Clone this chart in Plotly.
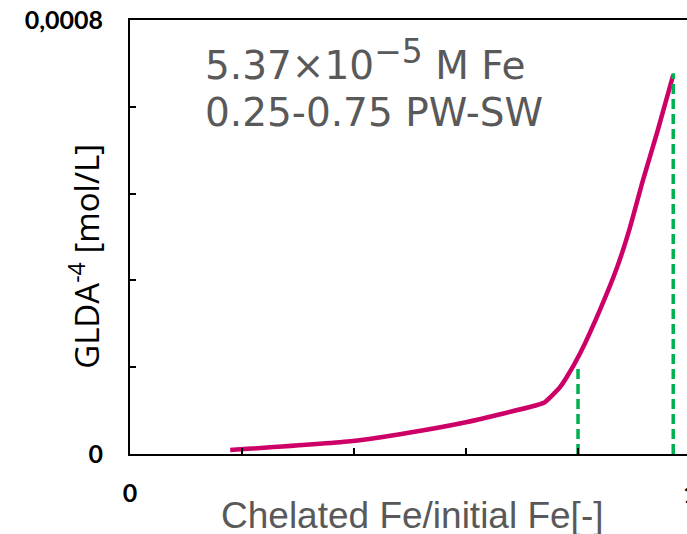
import plotly.graph_objects as go

# Data
ratio = [0.179, 0.398, 0.495, 0.602, 0.727, 0.741, 0.768, 0.780, 0.804, 0.839, 0.870, 0.893, 0.916, 0.941, 0.970]
gl_da = [7.4e-6, 2.40e-5, 3.87e-5, 5.90e-5, 9.03e-5, 9.58e-5, 1.235e-4, 1.419e-4, 1.862e-4, 2.654e-4,
         3.447e-4, 4.184e-4, 5.05e-4, 5.917e-4, 6.986e-4]
marker_x = [0.80, 0.97]
marker_top = [1.64e-4, 7.02e-4]

x_tickvals = [0, 0.2, 0.4, 0.6, 0.8, 1.0]
x_ticktext = ["0", "", "", "", "", ""]
y_tickvals = [0, 0.00016, 0.00032, 0.00048, 0.00064, 0.0008]
y_ticktext = ["0", "", "", "", "", "0,0008"]

tick_font = dict(family="Lato", size=25, color="black", weight="bold")

fig = go.Figure()
fig.add_trace(go.Scatter(x=ratio, y=gl_da, mode="lines",
                         line=dict(color="#cc0066", width=4.5, shape="spline", smoothing=0.6),
                         showlegend=False))
for mx, mt in zip(marker_x, marker_top):
    fig.add_trace(go.Scatter(x=[mx, mx], y=[0, mt], mode="lines",
                             line=dict(color="#00b050", width=3.5, dash="10px,5px"),
                             showlegend=False))

fig.update_layout(
    width=687, height=534,
    margin=dict(l=130, r=0, t=20, b=80),
    paper_bgcolor="white", plot_bgcolor="white",
    xaxis=dict(range=[0, 0.9946], tickvals=x_tickvals, ticktext=x_ticktext,
               ticks="inside", ticklen=6, tickwidth=1.5, tickcolor="black",
               showline=True, linecolor="black", linewidth=2, mirror=True,
               showgrid=False, zeroline=False, automargin=False,
               tickfont=tick_font, ticklabelstandoff=16),
    yaxis=dict(range=[0, 0.0008], tickvals=y_tickvals, ticktext=y_ticktext,
               ticks="inside", ticklen=6, tickwidth=1.5, tickcolor="black",
               showline=True, linecolor="black", linewidth=2,
               showgrid=False, zeroline=False, automargin=False,
               tickfont=tick_font, ticklabelstandoff=20),
)

# axis titles
fig.add_annotation(xref="paper", yref="paper", x=0.508, y=-0.1406,
                   text="Chelated Fe/initial Fe[-]", showarrow=False,
                   font=dict(family="Liberation Sans", size=37, color="#595959"),
                   xanchor="center", yanchor="middle")
fig.add_annotation(xref="paper", yref="paper", x=-0.082, y=0.455,
                   text="GLDA<sup>-4</sup> [mol/L]", showarrow=False, textangle=-90,
                   font=dict(family="Open Sans", size=33, color="black"),
                   xanchor="center", yanchor="middle")
# clipped "1" tick label at the right edge
fig.add_annotation(xref="paper", yref="paper", x=1.0054, y=-0.0899, text="1",
                   showarrow=False, font=tick_font,
                   xanchor="center", yanchor="middle")
# in-plot labels
fig.add_annotation(xref="paper", yref="paper", x=0.422, y=0.908,
                   text="5.37×10<sup><span style='font-size:33px'>−5</span></sup> M Fe", showarrow=False,
                   font=dict(family="DejaVu Sans", size=39, color="#595959"),
                   xanchor="center", yanchor="middle")
fig.add_annotation(xref="paper", yref="paper", x=0.438, y=0.786,
                   text="0.25-0.75 PW-SW", showarrow=False,
                   font=dict(family="DejaVu Sans", size=39, color="#595959"),
                   xanchor="center", yanchor="middle")

fig.write_html("out.html", config={"displayModeBar": False},
               post_script="document.body.style.margin='0';document.body.style.overflow='hidden';")
